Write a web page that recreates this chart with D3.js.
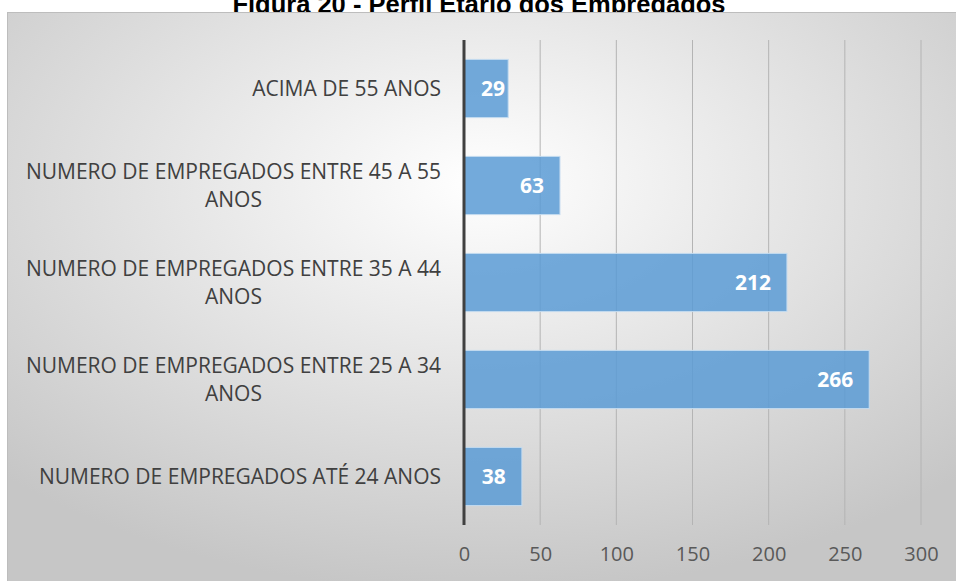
<!DOCTYPE html>
<html>
<head>
<meta charset="utf-8">
<script src="https://cdn.jsdelivr.net/npm/d3@7"></script>
<style>
  body { margin: 0; background: #fff; }
  svg { display: block; }
</style>
</head>
<body>
<div class="chart"></div>
<script>
var svgWidth = 956;
var svgHeight = 581;

// Data
var categories = [
  "ACIMA DE 55 ANOS",
  "NUMERO DE EMPREGADOS ENTRE 45 A 55 ANOS",
  "NUMERO DE EMPREGADOS ENTRE 35 A 44 ANOS",
  "NUMERO DE EMPREGADOS ENTRE 25 A 34 ANOS",
  "NUMERO DE EMPREGADOS ATÉ 24 ANOS"
];
var values = [29, 63, 212, 266, 38];
var xTicks = [0, 50, 100, 150, 200, 250, 300];
var title = "Figura 20 - Perfil Etário dos Empregados";

var margin = { top: 40, right: 35, bottom: 56, left: 464 };
var plotRight = svgWidth - margin.right;
var plotBottom = svgHeight - margin.bottom;

var svg = d3.select(".chart")
  .append("svg")
  .attr("width", svgWidth)
  .attr("height", svgHeight);

// title, cut by the top of the page
svg.append("text")
  .attr("x", 479).attr("y", 13)
  .attr("text-anchor", "middle")
  .style("font-family", "Liberation Sans, Arial, sans-serif")
  .style("font-weight", "bold")
  .style("font-size", "25.5px")
  .attr("fill", "#000")
  .text(title);

// background gradient
var defs = svg.append("defs");
var grad = defs.append("radialGradient")
  .attr("id", "bg")
  .attr("cx", "50%").attr("cy", "30%").attr("r", "72%");
grad.append("stop").attr("offset", "0%").attr("stop-color", "#ffffff");
grad.append("stop").attr("offset", "100%").attr("stop-color", "#c6c6c6");

svg.append("rect")
  .attr("x", 7.5).attr("y", 12.5)
  .attr("width", svgWidth - 7).attr("height", svgHeight - 12)
  .attr("fill", "url(#bg)")
  .attr("stroke", "#bdbdbd")
  .attr("stroke-width", 1);

// scales
var xScale = d3.scaleLinear()
  .domain([0, 300])
  .range([margin.left, plotRight]);

var yScale = d3.scaleBand()
  .domain(categories)
  .range([margin.top, plotBottom])
  .paddingInner(0.4)
  .paddingOuter(0.2);

// gridlines
svg.append("g").selectAll("line")
  .data(xTicks.slice(1))
  .enter()
  .append("line")
  .attr("x1", d => xScale(d)).attr("x2", d => xScale(d))
  .attr("y1", margin.top).attr("y2", plotBottom)
  .attr("stroke", "#b4b4b4")
  .attr("stroke-width", 1);

// bars
svg.append("g").selectAll("rect")
  .data(values)
  .enter()
  .append("rect")
  .attr("x", xScale(0))
  .attr("y", (d, i) => yScale(categories[i]))
  .attr("width", d => xScale(d) - xScale(0))
  .attr("height", yScale.bandwidth())
  .attr("fill", "#5b9bd5")
  .attr("fill-opacity", 0.85)
  .attr("stroke", "#c5dcf0")
  .attr("stroke-width", 1);

// value labels
svg.append("g").selectAll("text")
  .data(values)
  .enter()
  .append("text")
  .attr("x", d => Math.max(xScale(d) - 16, xScale(0) + 41))
  .attr("y", (d, i) => yScale(categories[i]) + yScale.bandwidth() / 2)
  .attr("dy", "0.36em")
  .attr("text-anchor", "end")
  .style("font-family", "Open Sans, sans-serif")
  .style("font-weight", "bold")
  .style("font-size", "21px")
  .attr("fill", "#ffffff")
  .text(d => d);

// y axis line
svg.append("line")
  .attr("x1", xScale(0)).attr("x2", xScale(0))
  .attr("y1", margin.top).attr("y2", plotBottom)
  .attr("stroke", "#404040")
  .attr("stroke-width", 3);

// x axis tick labels
var bottomAxis = d3.axisBottom(xScale)
  .tickValues(xTicks)
  .tickSize(0)
  .tickPadding(22);

var xAxisG = svg.append("g")
  .attr("transform", `translate(0, ${plotBottom})`)
  .call(bottomAxis);
xAxisG.select(".domain").remove();
xAxisG.selectAll("text")
  .style("font-family", "Open Sans, sans-serif")
  .style("font-size", "20px")
  .attr("fill", "#595959");

// category labels, wrapped and centered as a block, right aligned
var labelRight = 441;
var maxLabelWidth = 425;
var labelG = svg.append("g")
  .style("font-family", "Open Sans, sans-serif")
  .style("font-size", "21px")
  .attr("fill", "#404040");

categories.forEach(function(cat) {
  var t = labelG.append("text").attr("text-anchor", "middle");
  var words = cat.split(" ");
  var lines = [];
  var line = [];
  var probe = t.append("tspan");
  words.forEach(function(w) {
    line.push(w);
    probe.text(line.join(" "));
    if (probe.node().getComputedTextLength() > maxLabelWidth && line.length > 1) {
      line.pop();
      lines.push(line.join(" "));
      line = [w];
    }
  });
  lines.push(line.join(" "));
  probe.remove();

  var widths = lines.map(function(l) {
    var s = t.append("tspan").text(l);
    var w = s.node().getComputedTextLength();
    s.remove();
    return w;
  });
  var blockW = d3.max(widths);
  var cx = labelRight - blockW / 2;
  var lineH = 28;
  var cy = yScale(cat) + yScale.bandwidth() / 2 - (lines.length - 1) * lineH / 2;
  lines.forEach(function(l, i) {
    t.append("tspan")
      .attr("x", cx)
      .attr("y", cy + i * lineH)
      .attr("dy", "0.36em")
      .text(l);
  });
});
</script>
</body>
</html>
